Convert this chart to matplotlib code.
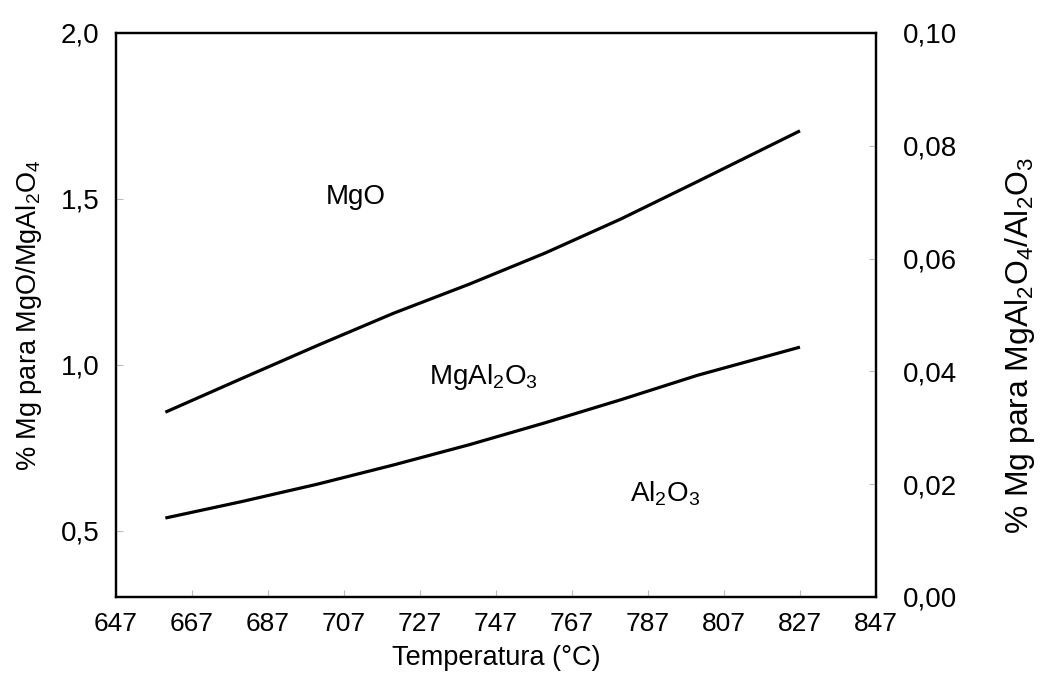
import matplotlib
matplotlib.use("Agg")
import matplotlib.pyplot as plt
from matplotlib import font_manager

plt.rcParams['font.family'] = ['Liberation Sans', 'DejaVu Sans']
plt.rcParams['mathtext.fontset'] = 'custom'
plt.rcParams['mathtext.rm'] = 'Liberation Sans'

# Temperatures (C) and phase boundaries
temp = [660, 680, 700, 720, 740, 760, 780, 800, 827]
mgo_spinel = [0.857, 0.958, 1.058, 1.155, 1.243, 1.337, 1.440, 1.552, 1.705]      # left axis
spinel_alumina = [0.0140, 0.0169, 0.0200, 0.0234, 0.0270, 0.0309, 0.0350, 0.0393, 0.0443]  # right axis

xticks = [647, 667, 687, 707, 727, 747, 767, 787, 807, 827, 847]
left_ticks = [0.5, 1.0, 1.5, 2.0]
right_ticks = [0.00, 0.02, 0.04, 0.06, 0.08, 0.10]

names = {f.name for f in font_manager.fontManager.ttflist}
narrow = 'Liberation Sans Narrow' if 'Liberation Sans Narrow' in names else 'Liberation Sans'
scale = 1.0 if narrow == 'Liberation Sans Narrow' else 0.85

fig = plt.figure(figsize=(10.4, 6.77), dpi=100)
ax = fig.add_axes([0.1115, 0.1182, 0.7308, 0.8331])
ax2 = ax.twinx()

ax.plot(temp, mgo_spinel, color='black', lw=2.3, solid_capstyle='butt')
ax2.plot(temp, spinel_alumina, color='black', lw=2.3, solid_capstyle='butt')

ax.set_xlim(647, 847)
ax.set_ylim(0.3, 2.0)
ax2.set_ylim(0.0, 0.10)

ax.set_xticks(xticks)
ax.set_xticklabels([str(t) for t in xticks])
ax.set_yticks(left_ticks)
ax.set_yticklabels([f'{v:.1f}'.replace('.', ',') for v in left_ticks])
ax2.set_yticks(right_ticks)
ax2.set_yticklabels([f'{v:.2f}'.replace('.', ',') for v in right_ticks])

ax.tick_params(axis='x', direction='in', length=5, color='#bbbbbb', labelsize=19, pad=11)
ax.tick_params(axis='y', direction='in', length=5, color='#bbbbbb', labelsize=20, pad=12)
ax2.tick_params(axis='y', direction='in', length=5, color='#bbbbbb', labelsize=20, pad=19)
for lbl in ax.get_xticklabels():
    lbl.set_family([narrow, 'Liberation Sans'])

for a in (ax, ax2):
    for s in a.spines.values():
        s.set_linewidth(1.6)

ax.set_xlabel('Temperatura (°C)', fontsize=23 * scale, family=[narrow, 'Liberation Sans'], labelpad=6)
ax.set_ylabel(r'% Mg para MgO/MgAl$_\mathregular{2}$O$_\mathregular{4}$', fontsize=23 * scale,
              family=[narrow, 'Liberation Sans'], labelpad=12)
ax2.set_ylabel(r'% Mg para MgAl$_\mathregular{2}$O$_\mathregular{4}$/Al$_\mathregular{2}$O$_\mathregular{3}$',
               fontsize=27 * scale, family=[narrow, 'Liberation Sans'], rotation=90,
               va='center', ha='center')
ax2.yaxis.set_label_coords(1.19, 0.445)

# Phase field labels
ax.text(710, 1.505, 'MgO', fontsize=20, ha='center', va='center')
ax.text(743.7, 0.962, r'MgAl$_\mathregular{2}$O$_\mathregular{3}$', fontsize=20, ha='center', va='center')
ax.text(791.5, 0.612, r'Al$_\mathregular{2}$O$_\mathregular{3}$', fontsize=20, ha='center', va='center')

fig.savefig('out.png', dpi=100)
